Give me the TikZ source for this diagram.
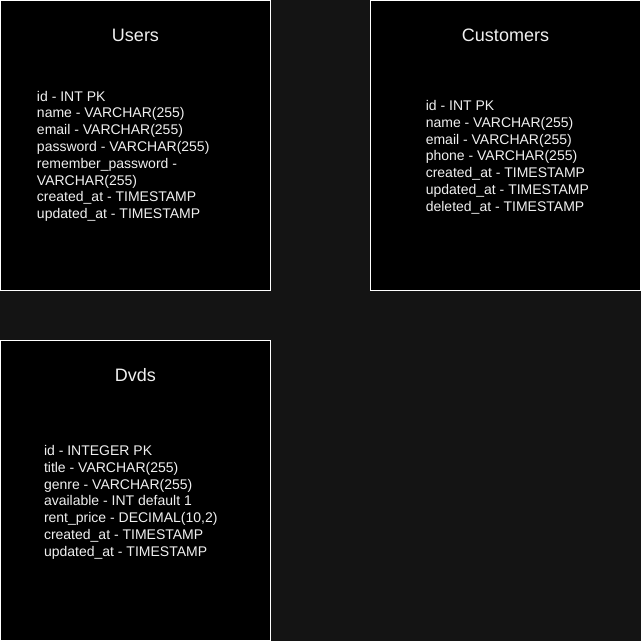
\documentclass[tikz,border=0pt]{standalone}
\usepackage{fontspec}
\setmainfont{Liberation Sans}
\definecolor{bgc}{HTML}{141414}
\definecolor{txt}{HTML}{F0F0F0}
\begin{document}
\begin{tikzpicture}[x=1pt,y=-1pt,
  table/.style={draw=white,fill=black,line width=1pt,inner sep=0pt,outer sep=0pt,
    minimum width=270pt,minimum height=#1,anchor=north west},
  ttl/.style={text=txt,inner sep=0pt,anchor=base,font=\fontsize{18}{21.6}\selectfont},
  attr/.style={text=txt,inner sep=0pt,anchor=base west,font=\fontsize{14}{16.8}\selectfont}]
\fill[bgc] (0,0) rectangle (641,641);
\useasboundingbox (0,0) rectangle (641,641);
\node[table=290pt] (users) at (0.5,0.5) {};
\node[table=290pt] (customers) at (370.5,0.5) {};
\node[table=300pt] (dvds) at (0.5,340.5) {};
\node[ttl] (usersT) at (135.5,41.4) {Users};
\node[ttl] (customersT) at (505.5,41.4) {Customers};
\node[ttl] (dvdsT) at (135.5,381.4) {Dvds};
\foreach \t [count=\i from 0] in {id - INT PK,name - VARCHAR(255),email - VARCHAR(255),password - VARCHAR(255),remember\_password -,VARCHAR(255),created\_at - TIMESTAMP,updated\_at - TIMESTAMP}
  \node[attr] (u\i) at (36.8,101+16.8*\i) {\t};
\foreach \t [count=\i from 0] in {id - INT PK,name - VARCHAR(255),email - VARCHAR(255),phone - VARCHAR(255),created\_at - TIMESTAMP,updated\_at - TIMESTAMP,deleted\_at - TIMESTAMP}
  \node[attr] (c\i) at (425.6,110.4+16.8*\i) {\t};
\foreach \t [count=\i from 0] in {id - INTEGER PK,title - VARCHAR(255),genre - VARCHAR(255),available - INT default 1,rent\_price - DECIMAL(10{,}2),created\_at - TIMESTAMP,updated\_at - TIMESTAMP}
  \node[attr] (d\i) at (43.8,455.4+16.8*\i) {\t};
\end{tikzpicture}
\end{document}
